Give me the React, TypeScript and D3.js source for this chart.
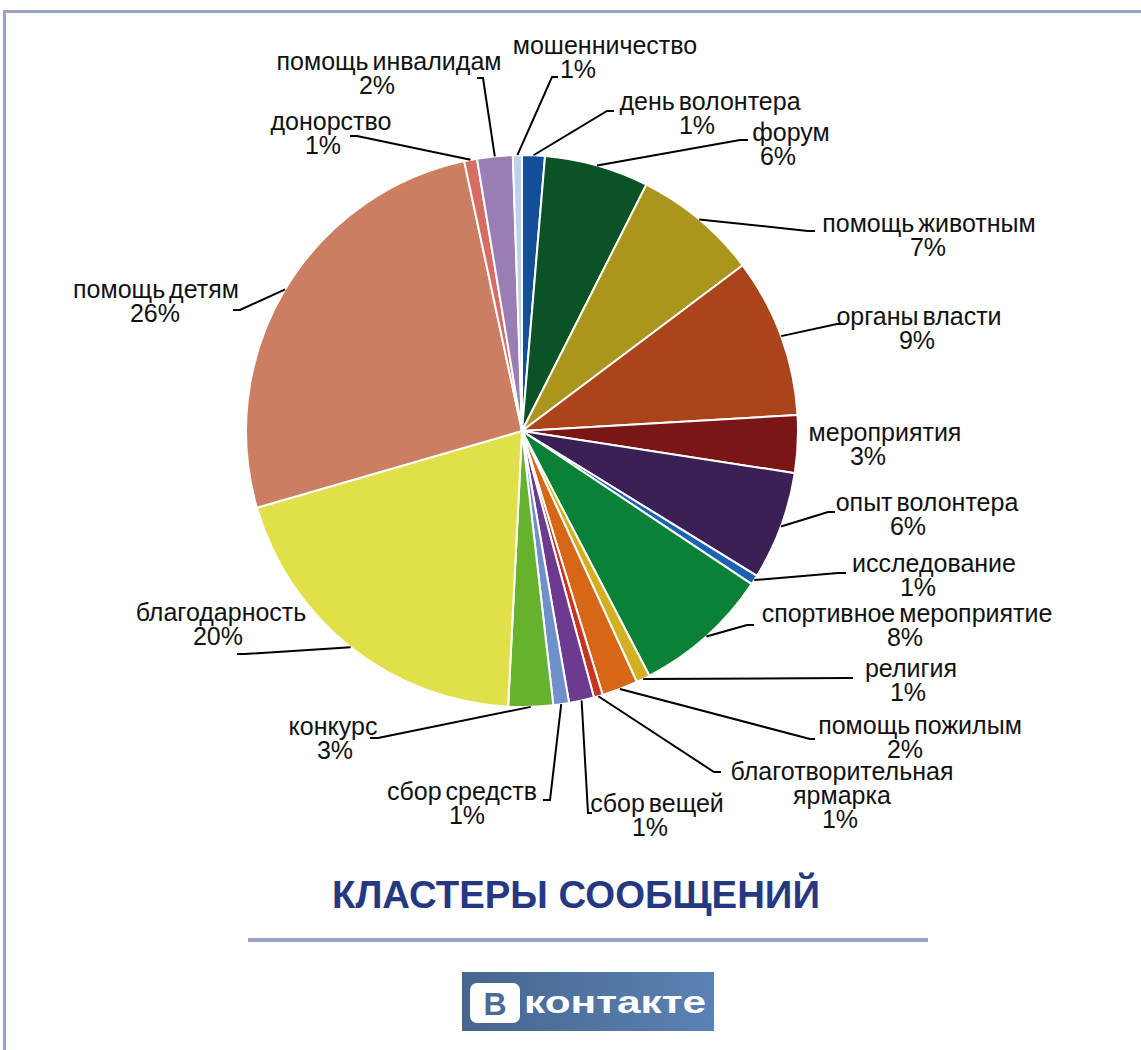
import React from 'react';
import * as d3 from 'd3';

// данные кластеров (доли в %, по часовой стрелке от 12 часов)
const categories = [
  'день волонтера', 'форум', 'помощь животным', 'органы власти', 'мероприятия',
  'опыт волонтера', 'исследование', 'спортивное мероприятие', 'религия',
  'помощь пожилым', 'благотворительная\nярмарка', 'сбор вещей', 'сбор средств',
  'конкурс', 'благодарность', 'помощь детям', 'донорство', 'помощь инвалидам',
  'мошенничество',
];
const shares = [
  1.33, 6.11, 7.31, 9.33, 3.36, 6.36, 0.56, 8.0, 0.81, 2.11, 0.52, 1.47, 0.92,
  2.61, 19.72, 26.12, 0.75, 2.08, 0.53,
];
const colors = [
  '#124f98', '#0c5227', '#ab961d', '#ab4418', '#7b1616', '#3a2054', '#1b62b3',
  '#0a8137', '#d2b022', '#d76617', '#c8341f', '#6c3a8e', '#7090cc', '#66b22f',
  '#e1e04a', '#cb7e61', '#d76c62', '#9a7db3', '#bdd0ee',
];

// подписи: центр названия, центр процента, базовая линия, излом и конец выноски
const labelLayout = [
  { x: 710, px: 697, y: 110, elbow: [607, 111], end: [614, 111] },
  { x: 791, px: 778, y: 141, elbow: [740, 140], end: [748, 140] },
  { x: 929, px: 928, y: 232, elbow: [808, 231], end: [815, 231] },
  { x: 919, px: 917, y: 325, elbow: [837, 324], end: [843, 324] },
  { x: 885, px: 868, y: 441, elbow: null, end: null },
  { x: 927, px: 908, y: 511, elbow: [828, 512], end: [835, 512] },
  { x: 934, px: 918, y: 572, elbow: [838, 573], end: [846, 573] },
  { x: 907, px: 905, y: 622, elbow: [747, 625], end: [754, 625] },
  { x: 911, px: 908, y: 677, elbow: [848, 678], end: [853, 678] },
  { x: 920, px: 905, y: 734, elbow: [810, 739], end: [815, 739] },
  { x: 842, px: 840, y: 780, elbow: [714, 772], end: [721, 772] },
  { x: 657, px: 650, y: 812, elbow: [588, 813], end: [592, 813] },
  { x: 462, px: 467, y: 800, elbow: [550, 800], end: [543, 800] },
  { x: 333, px: 335, y: 735, elbow: [378, 738], end: [370, 738] },
  { x: 221, px: 218, y: 621, elbow: [245, 654], end: [237, 654] },
  { x: 156, px: 155, y: 298, elbow: [240, 310], end: [233, 310] },
  { x: 331, px: 323, y: 130, elbow: [357, 136], end: [350, 136] },
  { x: 389, px: 377, y: 70, elbow: [483, 78], end: [477, 78] },
  { x: 605, px: 578, y: 54, elbow: [552, 77], end: [558, 77] },
];

const W = 1141;
const H = 1050;
const cx = 522;
const cy = 431;
const R = 276;
const font = "'Liberation Sans', Arial, Helvetica, sans-serif";

export default function App() {
  const total = d3.sum(shares);
  const pie = d3.pie<number>().sort(null).value((d) => d)(shares);
  const arc = d3.arc<d3.PieArcDatum<number>>().innerRadius(0).outerRadius(R);
  const edge = d3.arc<d3.PieArcDatum<number>>().innerRadius(R).outerRadius(R);

  return (
    <svg
      width={W}
      height={H}
      style={{ position: 'absolute', left: 0, top: 0, background: '#fff' }}
    >
      {/* рамка */}
      <line x1={3} y1={11.5} x2={W} y2={11.5} stroke="#9aa1cb" strokeWidth={3} />
      <line x1={4.5} y1={10} x2={4.5} y2={H} stroke="#9aa1cb" strokeWidth={3} />

      <g transform={`translate(${cx},${cy})`}>
        {pie.map((p, i) => (
          <path key={i} d={arc(p) || ''} fill={colors[i]} stroke="#fff" strokeWidth={2} />
        ))}
      </g>

      {/* выноски */}
      <g fill="none" stroke="#000" strokeWidth={2}>
        {pie.map((p, i) => {
          const l = labelLayout[i];
          if (!l.elbow || !l.end) return null;
          const [sx, sy] = edge.centroid(p);
          const pts: [number, number][] = [[cx + sx, cy + sy], l.elbow as [number, number], l.end as [number, number]];
          return <path key={i} d={d3.line()(pts) || ''} />;
        })}
      </g>

      {/* подписи */}
      <g fontFamily={font} fontSize={25} fill="#111" textAnchor="middle" style={{ wordSpacing: '-3px' }}>
        {categories.map((c, i) => {
          const l = labelLayout[i];
          const lines = c.split('\n');
          const pct = Math.max(1, Math.round((shares[i] / total) * 100)) + '%';
          return (
            <text key={i} x={l.x} y={l.y}>
              {lines.map((t, k) => (
                <tspan key={k} x={l.x} dy={k === 0 ? 0 : 24}>{t}</tspan>
              ))}
              <tspan x={l.px} dy={24}>{pct}</tspan>
            </text>
          );
        })}
      </g>

      {/* заголовок */}
      <text
        x={576}
        y={908}
        textAnchor="middle"
        fontFamily={font}
        fontWeight="bold"
        fontSize={38}
        fill="#263882"
        textLength={488}
        lengthAdjust="spacingAndGlyphs"
      >
        КЛАСТЕРЫ СООБЩЕНИЙ
      </text>
      <line x1={248} y1={940} x2={928} y2={940} stroke="#9aa1cb" strokeWidth={4} />

      {/* логотип */}
      <defs>
        <linearGradient id="vk" x1="0" x2="1" y1="0" y2="0">
          <stop offset="0" stopColor="#46658f" />
          <stop offset="1" stopColor="#5b82b4" />
        </linearGradient>
      </defs>
      <rect x={462} y={972} width={252} height={59} fill="url(#vk)" />
      <rect x={470} y={983} width={50} height={40} rx={7} fill="#fff" />
      <text x={495} y={1015} textAnchor="middle" fontFamily={font} fontWeight="bold" fontSize={32} fill="#4a6b95">
        В
      </text>
      <text
        x={524}
        y={1013}
        fontFamily={font}
        fontWeight="bold"
        fontSize={32}
        fill="#fff"
        textLength={182}
        lengthAdjust="spacingAndGlyphs"
      >
        контакте
      </text>
    </svg>
  );
}
